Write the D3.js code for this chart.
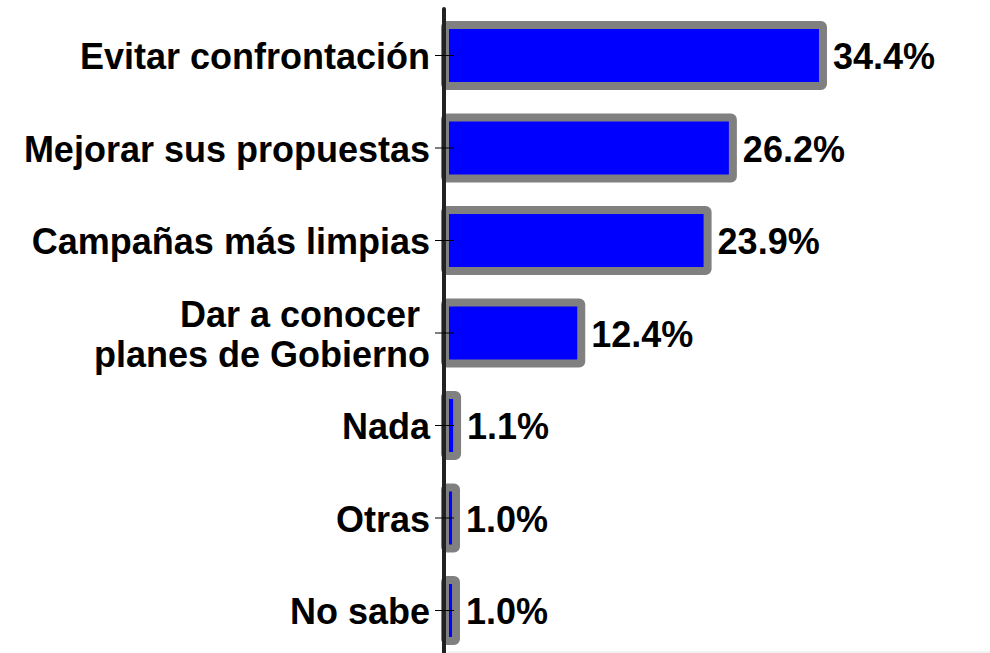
<!DOCTYPE html>
<html>
<head>
<meta charset="utf-8">
<script src="https://cdn.jsdelivr.net/npm/d3@7"></script>
<style>
  body { margin: 0; background: #fff; }
  svg { display: block; }
  text { font-family: "Liberation Sans", Arial, sans-serif; font-weight: bold; fill: #000; }
</style>
</head>
<body>
<svg width="990" height="653"></svg>
<script>
// categories (multi-line labels split by \n) and values in %
var categories = ["Evitar confrontación", "Mejorar sus propuestas", "Campañas más limpias",
    "Dar a conocer \nplanes de Gobierno", "Nada", "Otras", "No sabe"];
var values = [34.4, 26.2, 23.9, 12.4, 1.1, 1.0, 1.0];
var valueLabels = ["34.4%", "26.2%", "23.9%", "12.4%", "1.1%", "1.0%", "1.0%"];

var svg = d3.select('svg');
const width = +svg.attr('width')
    ,height = +svg.attr('height')
    ,axisX = 444
    ,fontSize = 36;

var data = categories.map(function(c, i) {
    return {cat: c, value: values[i], label: valueLabels[i]};
});

var x = d3.scaleLinear().domain([0, 40]).range([445, 884.5]);

var y = d3.scaleBand()
    .domain(categories)
    .range([9.25, 656.75])
    .paddingInner(0.34)
    .paddingOuter(0.17);

//faint border line at the bottom of the plot
svg.append("line")
    .attr("x1", 447).attr("x2", width)
    .attr("y1", 652).attr("y2", 652)
    .attr("stroke", "#e6e6e6")
    .attr("stroke-width", 1);

//bars: gray thick border, blue fill
svg.append("g")
    .selectAll("rect")
    .data(data)
    .enter().append("rect")
    .attr("x", x(0))
    .attr("y", function(d) { return y(d.cat); })
    .attr("width", function(d) { return x(d.value) - x(0); })
    .attr("height", y.bandwidth())
    .attr("rx", 2)
    .attr("fill", "#0000ff")
    .attr("stroke", "#808080")
    .attr("stroke-width", 8);

//axis line on top of bars
svg.append("line")
    .attr("x1", axisX).attr("x2", axisX)
    .attr("y1", 9).attr("y2", height + 5)
    .attr("stroke", "#222")
    .attr("stroke-width", 4)
    .attr("stroke-linecap", "round");

//ticks
svg.append("g")
    .selectAll("line")
    .data(data)
    .enter().append("line")
    .attr("x1", axisX - 9).attr("x2", axisX + 10)
    .attr("y1", function(d) { return y(d.cat) + y.bandwidth() / 2; })
    .attr("y2", function(d) { return y(d.cat) + y.bandwidth() / 2; })
    .attr("stroke", "#000")
    .attr("stroke-width", 1);

//category labels
var lables = svg.append("g")
    .selectAll("text")
    .data(data)
    .enter().append("text")
    .attr("x", 430)
    .attr("y", function(d) { return y(d.cat) + y.bandwidth() / 2; })
    .attr("text-anchor", "end")
    .style("font-size", fontSize + "px")
    .style("white-space", "pre");

lables.each(function(d) {
    var lines = d.cat.split("\n");
    var t = d3.select(this);
    lines.forEach(function(line, i) {
        t.append("tspan")
            .attr("x", 430)
            .attr("dy", i === 0 ? (0.38 - (lines.length - 1) * 0.56) + "em" : "1.12em")
            .text(line);
    });
});

//value labels
svg.append("g")
    .selectAll("text")
    .data(data)
    .enter().append("text")
    .attr("x", function(d) { return x(d.value) + 10; })
    .attr("y", function(d) { return y(d.cat) + y.bandwidth() / 2; })
    .attr("dy", "0.38em")
    .style("font-size", fontSize + "px")
    .text(function(d) { return d.label; });
</script>
</body>
</html>
